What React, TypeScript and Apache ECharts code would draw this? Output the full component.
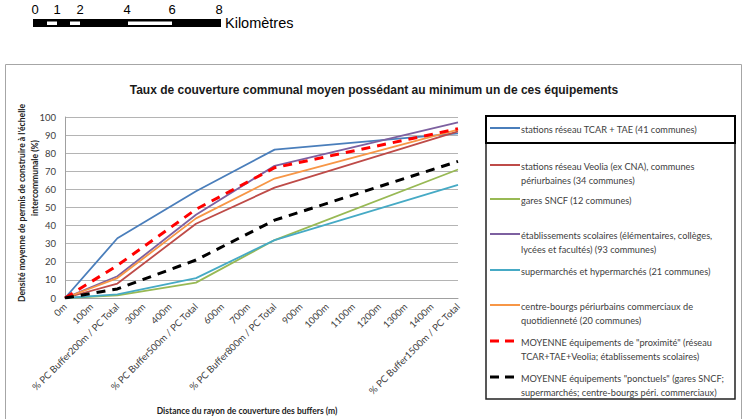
import React, { useEffect, useRef } from "react";
import * as echarts from "echarts";

const categories = [
  "0m", "100m", "% PC Buffer200m / PC Total", "300m", "400m",
  "% PC Buffer500m / PC Total", "600m", "700m", "% PC Buffer800m / PC Total",
  "900m", "1000m", "1100m", "1200m", "1300m", "1400m", "% PC Buffer1500m / PC Total",
];
// category indices where values exist (0m, 200m, 500m, 800m, 1500m)
const pointIndex = [0, 2, 5, 8, 15];

const tcar = [0, 33, 59, 82, 91];
const veolia = [0, 8, 41, 61, 92];
const sncf = [0, 1.5, 8.5, 32, 71];
const scolaires = [0, 12, 46, 73, 97];
const supermarches = [0, 2, 11, 32, 62.5];
const centreBourgs = [0, 11, 44, 66, 93];
const moyProximite = [0, 18, 49, 72, 93.5];
const moyPonctuels = [0, 5, 21, 43, 75.5];

const yTicks = [0, 10, 20, 30, 40, 50, 60, 70, 80, 90, 100];

const seriesDefs = [
  { name: "stations réseau TCAR + TAE (41 communes)", values: tcar, color: "#4A7EBB", dashed: false },
  { name: "stations réseau Veolia (ex CNA), communes\npériurbaines (34 communes)", values: veolia, color: "#BE4B48", dashed: false },
  { name: "gares SNCF (12 communes)", values: sncf, color: "#98B954", dashed: false },
  { name: "établissements scolaires (élémentaires, collèges,\nlycées et facultés) (93 communes)", values: scolaires, color: "#7D60A0", dashed: false },
  { name: "supermarchés et hypermarchés (21 communes)", values: supermarches, color: "#46AAC5", dashed: false },
  { name: "centre-bourgs périurbains commerciaux de\nquotidienneté (20 communes)", values: centreBourgs, color: "#F79646", dashed: false },
  { name: "MOYENNE équipements de \"proximité\" (réseau\nTCAR+TAE+Veolia; établissements scolaires)", values: moyProximite, color: "#FF0000", dashed: true },
  { name: "MOYENNE équipements \"ponctuels\" (gares SNCF;\nsupermarchés; centre-bourgs péri. commerciaux)", values: moyPonctuels, color: "#000000", dashed: true },
];
const legendY = [128, 165, 199, 234, 270, 305, 341, 377];

function buildData(values: number[]) {
  const arr: (number | null)[] = categories.map(() => null);
  pointIndex.forEach((ci, i) => {
    arr[ci] = values[i];
  });
  return arr;
}

const labelFont = "Lato, 'DejaVu Sans', sans-serif";

export default function App() {
  const ref = useRef<HTMLDivElement>(null);
  useEffect(() => {
    if (!ref.current) return;
    const chart = echarts.init(ref.current, null, { renderer: "svg" });

    const legendGraphics: any[] = [];
    seriesDefs.forEach((s, i) => {
      const y = legendY[i];
      legendGraphics.push({
        type: "line",
        shape: { x1: 490, y1: y, x2: 520, y2: y },
        style: s.dashed
          ? { stroke: s.color, lineWidth: 3, lineDash: [9, 6] }
          : { stroke: s.color, lineWidth: 2 },
      });
      legendGraphics.push({
        type: "text",
        x: 521,
        y: y - 6,
        style: {
          text: s.name,
          fill: "#404040",
          font: `9.2px ${labelFont}`,
          lineHeight: 14.5,
          textVerticalAlign: "top",
        },
      });
    });

    const option: any = {
      animation: false,
      backgroundColor: "#ffffff",
      title: {
        text: "Taux de couverture communal moyen possédant au minimum un de ces équipements",
        left: 369,
        textAlign: "center",
        top: 79,
        textStyle: { fontFamily: "'Liberation Sans', Arial, sans-serif", fontSize: 12, fontWeight: "bold", color: "#1a1a1a" },
      },
      grid: { left: 65, right: 284, top: 117, bottom: 121, containLabel: false },
      xAxis: {
        type: "category",
        data: categories,
        boundaryGap: false,
        axisLine: { show: true, lineStyle: { color: "#a0a0a0" } },
        axisTick: { show: false },
        axisLabel: {
          interval: 0,
          rotate: 45,
          fontSize: 9.5,
          fontFamily: labelFont,
          color: "#404040",
          margin: 7,
        },
      },
      yAxis: {
        type: "value",
        min: 0,
        max: 100,
        interval: 10,
        axisLine: { show: true, lineStyle: { color: "#a0a0a0" } },
        axisTick: { show: false },
        splitLine: { show: true, lineStyle: { color: "#b4b4b4", width: 1 } },
        axisLabel: {
          fontSize: 9.5,
          fontFamily: labelFont,
          color: "#404040",
          margin: 9,
          formatter: (v: number) => (yTicks.includes(v) ? String(v) : ""),
        },
      },
      series: seriesDefs.map((s) => ({
        name: s.name,
        type: "line",
        data: buildData(s.values),
        connectNulls: true,
        showSymbol: false,
        symbol: "none",
        z: s.dashed ? 3 : 2,
        lineStyle: s.dashed
          ? { color: s.color, width: 3, type: [9, 7] }
          : { color: s.color, width: 1.8 },
        itemStyle: { color: s.color },
      })),
      graphic: [
        // chart frame
        {
          type: "rect",
          shape: { x: 5.5, y: 64.5, width: 736, height: 370 },
          style: { fill: "none", stroke: "#a6a6a6", lineWidth: 1 },
          silent: true,
        },
        // scale bar
        { type: "rect", shape: { x: 33, y: 19, width: 188, height: 8 }, style: { fill: "#000" } },
        { type: "rect", shape: { x: 47, y: 21.5, width: 10, height: 3.5 }, style: { fill: "#fff" } },
        { type: "rect", shape: { x: 70, y: 21.5, width: 10, height: 3.5 }, style: { fill: "#fff" } },
        { type: "rect", shape: { x: 128, y: 21.5, width: 44, height: 3.5 }, style: { fill: "#fff" } },
        ...[
          ["0", 35], ["1", 57], ["2", 80], ["4", 127], ["6", 172], ["8", 219],
        ].map(([t, x]) => ({
          type: "text",
          x: x as number,
          y: 9,
          style: {
            text: t as string,
            font: "13px 'Liberation Sans', Arial, sans-serif",
            fill: "#000",
            textAlign: "center",
            textVerticalAlign: "middle",
          },
        })),
        {
          type: "text",
          x: 225,
          y: 23,
          style: {
            text: "Kilomètres",
            font: "14.5px 'Liberation Sans', Arial, sans-serif",
            fill: "#000",
            textVerticalAlign: "middle",
          },
        },
        // x axis title
        {
          type: "text",
          x: 247,
          y: 411,
          style: {
            text: "Distance du rayon de couverture des buffers (m)",
            font: `bold 8.5px ${labelFont}`,
            fill: "#222",
            textAlign: "center",
            textVerticalAlign: "middle",
          },
        },
        // y axis title (two rotated lines)
        {
          type: "text",
          x: 22,
          y: 203,
          rotation: Math.PI / 2,
          style: {
            text: "Densité moyenne de permis de construire à l'échelle",
            font: `bold 8.6px ${labelFont}`,
            fill: "#222",
            textAlign: "center",
            textVerticalAlign: "middle",
          },
        },
        {
          type: "text",
          x: 35,
          y: 178,
          rotation: Math.PI / 2,
          style: {
            text: "intercommunale (%)",
            font: `bold 8.6px ${labelFont}`,
            fill: "#222",
            textAlign: "center",
            textVerticalAlign: "middle",
          },
        },
        // legend box
        {
          type: "rect",
          shape: { x: 486, y: 116, width: 249, height: 283 },
          style: { fill: "#ffffff", stroke: "#222", lineWidth: 1.5 },
          z: 5,
        },
        {
          type: "rect",
          shape: { x: 486, y: 116, width: 249, height: 27 },
          style: { fill: "none", stroke: "#000", lineWidth: 2 },
          z: 6,
        },
        ...legendGraphics.map((g) => ({ ...g, z: 7 })),
      ],
    };
    chart.setOption(option);
    return () => chart.dispose();
  }, []);
  return (
    <div
      ref={ref}
      style={{ position: "fixed", left: 0, top: 0, width: 742, height: 419 }}
    />
  );
}
